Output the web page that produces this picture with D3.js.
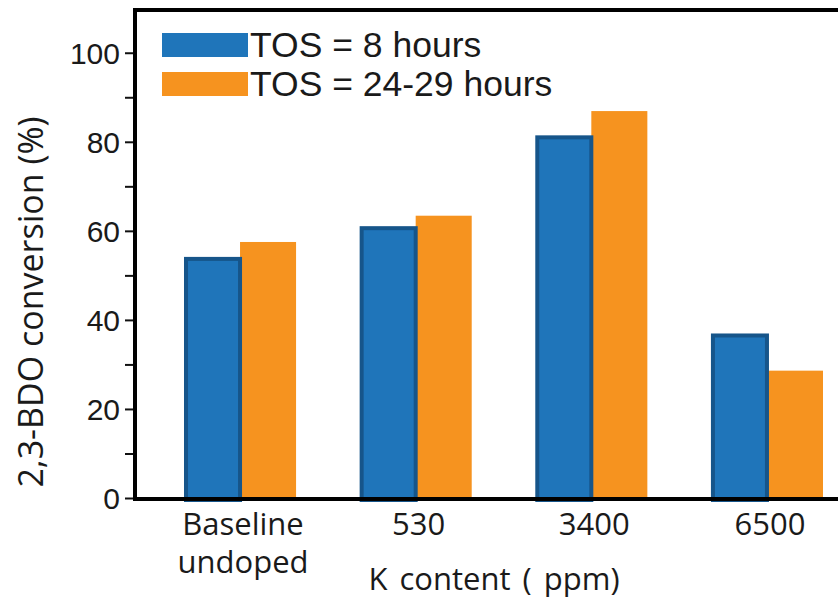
<!DOCTYPE html>
<html>
<head>
<meta charset="utf-8">
<script src="https://cdn.jsdelivr.net/npm/d3@7"></script>
<style>
  body { margin: 0; background: #fff; }
  svg { display: block; }
</style>
</head>
<body>
<div id="container"></div>
<script>
// values
var categories = ["Baseline undoped", "530", "3400", "6500"]
var categoryLines = [["Baseline", "undoped"], ["530"], ["3400"], ["6500"]]
var seriesNames = ["TOS = 8 hours", "TOS = 24-29 hours"]
var tos8 = [53.7, 60.6, 81.0, 36.5]
var tos24 = [57.5, 63.4, 86.9, 28.6]
var yTickValues = [0, 10, 20, 30, 40, 50, 60, 70, 80, 90, 100]

var colors = ["#1f75ba", "#f6931f"]
var blueEdge = "#16558a"

var width = 838, height = 605

var svg = d3.select("#container").append("svg")
  .attr("width", width)
  .attr("height", height)

var y = d3.scaleLinear().domain([0, 109.6]).range([498, 10])

var x0 = d3.scaleBand()
  .domain(categories)
  .range([135, 872])
  .paddingInner(0.362)
  .paddingOuter(0.279)

var x1 = d3.scaleBand()
  .domain([0, 1])
  .range([0, x0.bandwidth()])

var rows = categories.map(function (c, i) {
  return { cat: c, values: [tos8[i], tos24[i]] }
})

var groups = svg.selectAll(".group")
  .data(rows)
  .enter().append("g")
    .attr("class", "group")
    .attr("transform", d => "translate(" + x0(d.cat) + ",0)")

// orange first, blue on top so its edge sits over the join
groups.append("rect")
  .attr("x", x1(1))
  .attr("width", x1.bandwidth())
  .attr("y", d => y(d.values[1]))
  .attr("height", d => y(0) - y(d.values[1]))
  .attr("fill", colors[1])

groups.append("rect")
  .attr("x", x1(0) + 2)
  .attr("width", x1.bandwidth() - 2)
  .attr("y", d => y(d.values[0]))
  .attr("height", d => y(0) - y(d.values[0]) + 2)
  .attr("fill", colors[0])
  .attr("stroke", blueEdge)
  .attr("stroke-width", 4)

// y axis
var yAxis = svg.append("g")
  .attr("transform", "translate(135,0)")
  .call(d3.axisLeft(y)
    .tickValues(yTickValues)
    .tickFormat(d => d % 20 === 0 ? d : "")
    .tickSize(10)
    .tickSizeOuter(0)
    .tickPadding(5))

yAxis.select(".domain").remove()
yAxis.selectAll(".tick line").attr("stroke", "#111").attr("stroke-width", 2)
yAxis.selectAll(".tick text")
  .attr("font-family", "'Liberation Sans', Arial, sans-serif")
  .attr("font-size", 30)
  .attr("fill", "#1a1a1a")
  .attr("dy", "0.36em")

// frame: left, bottom and top lines
var frame = svg.append("g").attr("stroke", "#000").attr("stroke-width", 4).attr("fill", "none")
frame.append("line").attr("x1", 135).attr("x2", 135).attr("y1", y.range()[1] - 2).attr("y2", y(0) + 2)
frame.append("line").attr("x1", 133).attr("x2", width).attr("y1", y(0) + 1).attr("y2", y(0) + 1)
frame.append("line").attr("x1", 133).attr("x2", width).attr("y1", y.range()[1]).attr("y2", y.range()[1])

// x category labels
var xLabels = svg.append("g")
  .attr("font-family", "'Open Sans', 'Noto Sans', sans-serif")
  .attr("font-size", 31)
  .attr("fill", "#1a1a1a")
  .attr("text-anchor", "middle")

xLabels.selectAll("text")
  .data(categories)
  .enter().append("text")
    .attr("x", d => x0(d) + x0.bandwidth() / 2 + 3)
    .attr("y", 535)
    .each(function (d, i) {
      var t = d3.select(this)
      categoryLines[i].forEach(function (line, j) {
        t.append("tspan")
          .attr("x", x0(d) + x0.bandwidth() / 2 + 3)
          .attr("dy", j === 0 ? 0 : 38)
          .text(line)
      })
    })

// axis titles
svg.append("text")
  .attr("x", 494)
  .attr("y", 590)
  .attr("text-anchor", "middle")
  .attr("font-family", "'Open Sans', 'Noto Sans', sans-serif")
  .attr("font-size", 31)
  .attr("word-spacing", 4)
  .attr("fill", "#1a1a1a")
  .text("K content ( ppm)")

svg.append("text")
  .attr("transform", "translate(43,302) rotate(-90)")
  .attr("text-anchor", "middle")
  .attr("font-family", "'Open Sans', 'Noto Sans', sans-serif")
  .attr("font-size", 34)
  .attr("fill", "#1a1a1a")
  .text("2,3-BDO conversion (%)")

// legend
var legend = svg.append("g")
  .attr("transform", "translate(162,33)")

var legendItems = legend.selectAll(".item")
  .data(seriesNames)
  .enter().append("g")
    .attr("class", "item")
    .attr("transform", (d, i) => "translate(0," + (i * 39) + ")")

legendItems.append("rect")
  .attr("width", 86)
  .attr("height", 24)
  .attr("fill", (d, i) => colors[i])

legendItems.append("text")
  .attr("x", 88)
  .attr("y", 24)
  .attr("font-family", "'Liberation Sans', Arial, sans-serif")
  .attr("font-size", 35.5)
  .attr("fill", "#1a1a1a")
  .text(d => d)
</script>
</body>
</html>
